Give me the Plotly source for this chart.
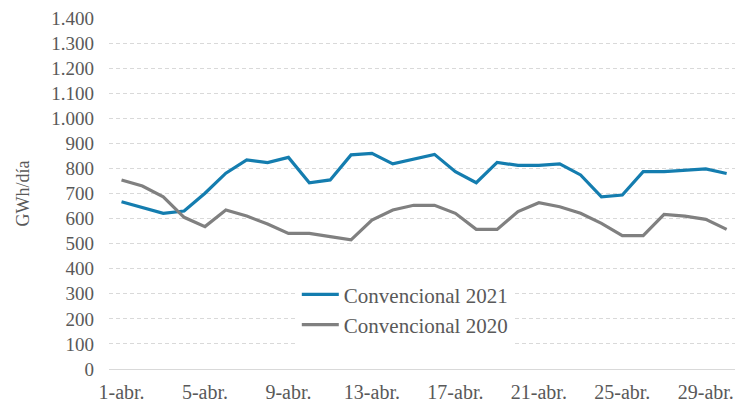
import plotly.graph_objects as go

days = [f"{d}-abr." for d in range(1, 31)]
tick_labels = ["1-abr.", "5-abr.", "9-abr.", "13-abr.", "17-abr.", "21-abr.", "25-abr.", "29-abr."]

conv_2021 = [667, 645, 621, 630, 701, 781, 834, 823, 844, 743,
             754, 854, 860, 818, 838, 856, 787, 743, 824, 812,
             812, 818, 774, 687, 694, 787, 787, 792, 798, 780]
conv_2020 = [754, 730, 687, 605, 568, 634, 610, 578, 541, 541,
             528, 515, 594, 634, 653, 653, 621, 557, 557, 628,
             663, 647, 621, 581, 532, 532, 617, 610, 597, 557]

y_ticks = list(range(0, 1401, 100))

FONT = "'Liberation Serif', 'DejaVu Serif', serif"
TXT = "#595959"

fig = go.Figure()
fig.add_trace(go.Scatter(x=days, y=conv_2021, mode="lines", name="Convencional 2021",
                         line=dict(color="#147DAF", width=3.2), legendgroup="a"))
fig.add_trace(go.Scatter(x=days, y=conv_2020, mode="lines", name="Convencional 2020",
                         line=dict(color="#808080", width=3.2), legendgroup="b"))

fig.update_layout(
    width=735, height=402,
    margin=dict(l=109, r=0, t=18, b=33),
    paper_bgcolor="white", plot_bgcolor="white",
    separators=",.",
    font=dict(family=FONT, color=TXT),
    showlegend=True,
    legend=dict(x=0.300, y=0.270, xanchor="left", yanchor="top",
                font=dict(family=FONT, size=21, color=TXT),
                bgcolor="white", tracegroupgap=0, itemwidth=37),
)
fig.update_xaxes(
    type="category", categoryorder="array", categoryarray=days,
    range=[-0.6, 29.4],
    tickmode="array", tickvals=tick_labels, ticktext=tick_labels,
    tickfont=dict(family=FONT, size=20, color=TXT),
    showgrid=False, showline=True, linecolor="#D9D9D9", linewidth=1,
    ticks="", zeroline=False, ticklabelstandoff=5, ticklabeloverflow="allow",
)
fig.update_yaxes(
    range=[0, 1400], tickvals=y_ticks, tickformat=",d",
    tickfont=dict(family=FONT, size=19, color=TXT),
    showgrid=True, gridcolor="#D9D9D9", griddash="4px,3px", gridwidth=1,
    zeroline=False, ticks="", ticklabelstandoff=14, ticklabeloverflow="allow",
    title=dict(text="GWh/día", font=dict(family=FONT, size=18, color=TXT), standoff=16),
    automargin=False,
)

fig.write_html(
    "out.html",
    config={"displayModeBar": False},
    post_script="document.body.style.margin='0';document.body.style.overflow='hidden';",
)
